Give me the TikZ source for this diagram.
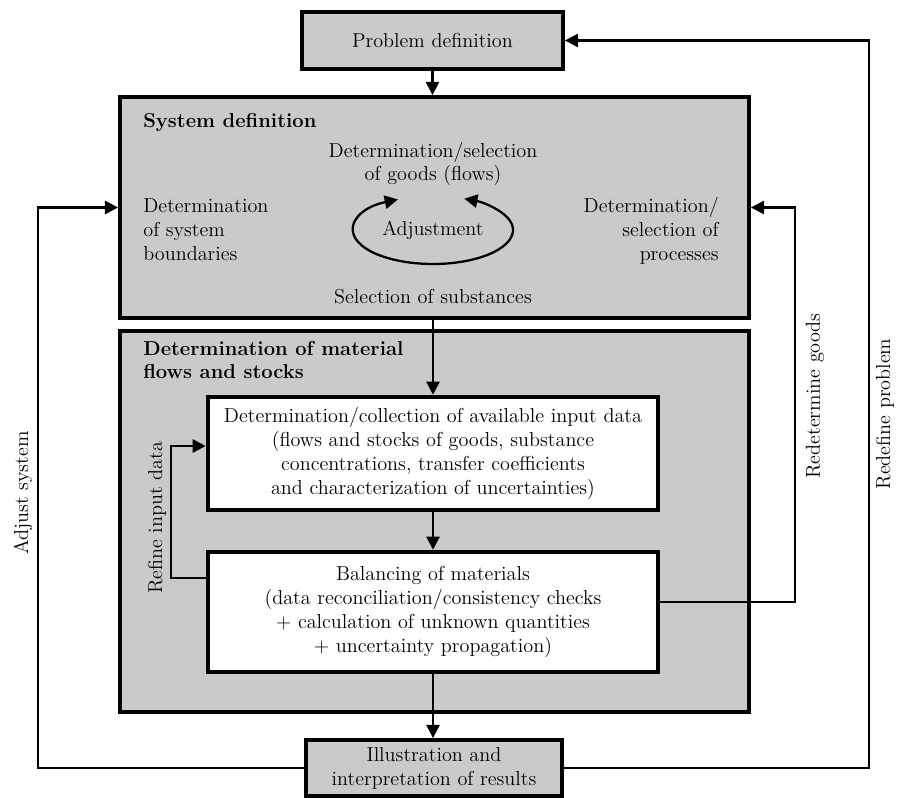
\documentclass[tikz,border=0pt]{standalone}
\usetikzlibrary{arrows.meta}
\definecolor{boxgray}{RGB}{201,202,204}
\begin{document}
\begin{tikzpicture}[x=0.02cm,y=-0.02cm,
  every node/.style={font=\fontsize{11.5}{13.6}\selectfont},
  graybox/.style={draw,fill=boxgray,line width=2.2pt,inner sep=0pt,align=center},
  whitebox/.style={draw,fill=white,line width=2.6pt,inner sep=0pt,align=center},
  txt/.style={inner sep=0pt,align=center},
  arr/.style={line width=1.3pt,-{Triangle[length=7.5pt,width=7.5pt]}},
  side/.style={rotate=90,inner sep=0pt}]
\useasboundingbox (0,0) rectangle (900,798);
% boxes
\node[graybox,minimum width=5.22cm,minimum height=1.14cm] (prob) at (432.5,40.5) {Problem definition};
\node[graybox,minimum width=12.58cm,minimum height=4.42cm] (sysdef) at (434.5,207.5) {};
\node[graybox,minimum width=12.58cm,minimum height=7.62cm] (matdef) at (434.5,521.5) {};
\node[whitebox,minimum width=9cm,minimum height=2.26cm] (input) at (433,453.5)
  {Determination/collection of available input data\\(flows and stocks of goods, substance\\concentrations, transfer coefficients\\and characterization of uncertainties)};
\node[whitebox,minimum width=9cm,minimum height=2.4cm] (balance) at (433,612)
  {Balancing of materials\\(data reconciliation/consistency checks\\+ calculation of unknown quantities\\+ uncertainty propagation)};
\node[graybox,minimum width=5.12cm,minimum height=1.12cm] (result) at (434,768)
  {Illustration and\\interpretation of results};
% texts of the system definition
\node[txt,anchor=west,font=\fontsize{11.5}{13.6}\selectfont\bfseries] (systitle) at (143,122) {System definition};
\node[txt] (goods) at (433,164) {Determination/selection\\of goods (flows)};
\node[txt,align=left,anchor=west] (bound) at (143,230) {Determination\\of system\\boundaries};
\node[txt,align=right,anchor=east] (procs) at (719,231) {Determination/\\selection of\\processes};
\node[txt] (adj) at (433,230) {Adjustment};
\node[txt] (subst) at (433,297) {Selection of substances};
\node[txt,align=left,anchor=west,font=\fontsize{11.5}{13.6}\selectfont\bfseries] (mattitle) at (143,360) {Determination of material\\flows and stocks};
\draw[line width=1.3pt,{Triangle[length=7.5pt,width=7.5pt]}-{Triangle[length=7.5pt,width=7.5pt]}]
  (adj.center) ++(-116:80 and 34) arc[start angle=-116,end angle=-427,x radius=80,y radius=34];
% main flow
\draw[arr] (prob.south) -- (prob.south |- sysdef.north);
\draw[arr] (sysdef.south -| input.north) -- (input.north);
\draw[arr] (input.south) -- (balance.north);
\draw[arr] (balance.south) -- (balance.south |- result.north);
% feedback loops
\draw[arr] ([yshift=0.68cm]balance.west) -- ++(-35,0) |- ([yshift=0.15cm]input.west);
\draw[arr] ([yshift=0.2cm]balance.east) -- ++(135,0) |- (sysdef.east);
\draw[arr] (result.west) -- ++(-266,0) |- (sysdef.west);
\draw[arr] (result.east) -- ++(305,0) |- (prob.east);
\node[side] (adjlbl) at (23,493) {Adjust system};
\node[side] (reflbl) at (157,518) {Refine input data};
\node[side] (goodlbl) at (815,396) {Redetermine goods};
\node[side] (problbl) at (885,414) {Redefine problem};
\end{tikzpicture}
\end{document}
